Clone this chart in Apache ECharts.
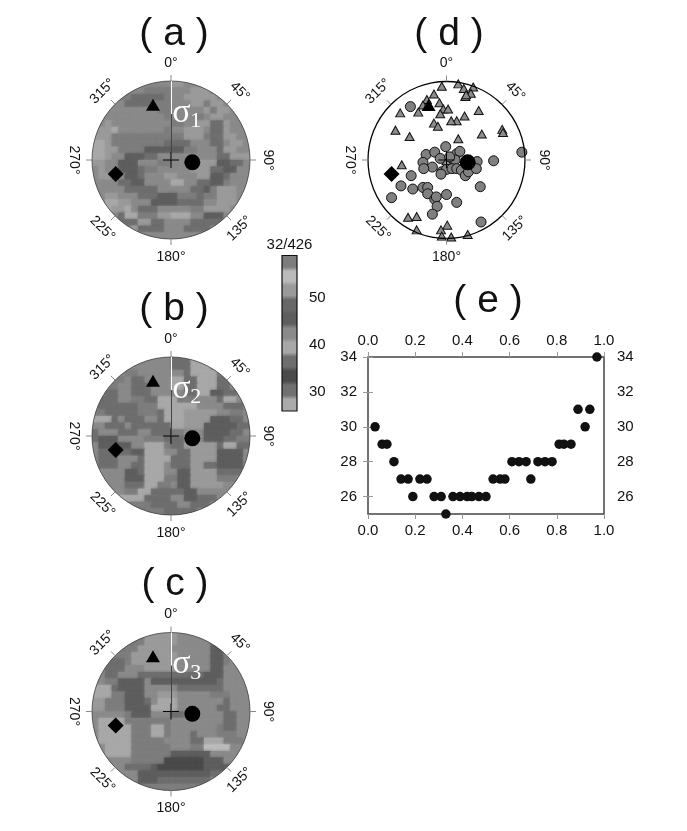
<!DOCTYPE html>
<html><head><meta charset="utf-8">
<style>html,body{margin:0;padding:0;background:#fff}#c{width:687px;height:831px}</style>
<script src="https://cdn.jsdelivr.net/npm/echarts@6/dist/echarts.min.js"></script>
</head><body><div id="c"></div>
<script>
// ---- data ----
const bandEdgesBottom = [26,29,32,35,38,41,44,47,50,53,56];
const bandGrays = ['#ababab','#707070','#4a4a4a','#6e6e6e','#a8a8a8','#8a8a8a','#5e5e5e','#686868','#9a9a9a','#bbbbbb','#7d7d7d'];
const colorbarTicks = [30,40,50];
const azimuths = [0,45,90,135,180,225,270,315];
const azimuthLabels = ['0°','45°','90°','135°','180°','225°','270°','315°'];
const azimuthRotation = [0,-45,-90,45,0,-45,-90,45];
const sigma1Point = [0.27,-0.03];
const sigma2Point = [-0.228,0.70];
const sigma3Point = [-0.70,-0.177];

const panelA = [
[43,43,43,43,43,43,43,43,43,43,43,43,52,52,43,43,43,43,43,43,43,43,43,43],
[43,43,43,43,43,43,43,43,58,58,58,58,43,43,43,52,52,52,43,43,43,43,43,43],
[43,43,43,43,58,58,37,37,37,37,37,58,43,43,52,52,52,52,52,43,43,43,43,43],
[43,43,43,43,43,37,37,37,37,58,58,58,43,43,43,52,52,58,52,52,43,43,43,43],
[43,43,43,43,43,43,43,43,43,43,58,58,43,43,43,43,43,52,58,52,52,43,43,43],
[43,43,43,43,43,43,43,43,43,43,43,58,43,43,43,43,58,43,52,52,43,43,43,43],
[43,43,52,43,43,43,43,43,43,43,43,43,58,58,43,43,52,52,37,37,52,43,43,43],
[43,52,52,40,43,43,43,43,43,43,43,58,43,43,52,52,52,43,37,37,52,43,43,43],
[52,52,52,58,58,58,58,58,58,58,58,58,58,58,52,52,52,58,37,31,52,52,43,43],
[40,40,52,58,58,58,58,58,58,58,58,37,37,37,37,43,43,43,37,37,43,52,52,43],
[40,40,52,52,58,58,58,58,46,46,46,46,46,46,58,58,43,43,43,37,52,52,43,43],
[40,40,52,43,43,46,46,46,37,37,43,43,43,43,43,43,43,43,43,37,37,52,52,52],
[52,52,43,43,46,46,46,43,43,43,58,58,43,43,43,43,52,52,52,46,46,37,37,43],
[43,52,43,43,46,46,46,37,58,58,43,43,43,43,43,52,52,52,37,37,46,46,43,43],
[43,52,52,43,43,46,46,37,43,43,43,52,52,43,43,43,52,52,46,46,37,43,43,43],
[43,43,43,43,37,37,46,46,43,43,43,43,40,40,43,43,37,37,46,46,58,43,43,43],
[43,43,43,43,43,37,37,37,37,37,43,43,43,43,43,37,37,46,58,52,52,52,43,43],
[43,43,52,52,43,43,43,37,37,37,46,46,46,58,58,58,37,58,58,52,52,52,43,43],
[43,43,40,40,52,52,43,43,43,46,46,46,46,37,37,37,37,43,43,52,52,52,43,43],
[43,43,40,52,52,40,43,37,37,37,43,43,43,43,43,58,58,52,52,52,52,43,43,43],
[43,43,43,43,37,40,40,58,58,58,52,52,40,40,40,43,43,46,46,46,43,43,43,43],
[43,43,43,43,37,37,37,52,52,37,37,43,43,43,43,37,37,37,37,37,43,43,43,43],
[43,43,43,43,43,43,52,37,37,37,37,43,43,43,37,37,37,37,43,43,43,43,43,43],
[43,43,43,43,43,43,43,43,43,43,43,43,43,43,43,43,43,43,43,43,43,43,43,43]];

const panelB = [
[43,43,43,43,43,43,43,43,43,43,43,43,37,37,37,40,40,40,43,43,43,43,43,43],
[43,43,43,43,43,43,43,43,43,43,43,43,37,37,37,40,40,40,43,43,43,43,43,43],
[43,43,43,43,43,58,58,43,43,43,43,43,43,43,37,40,40,40,40,58,37,43,43,43],
[43,43,43,58,58,43,37,37,43,43,43,43,40,40,37,37,40,40,40,37,37,43,43,43],
[43,43,58,58,43,43,37,37,37,43,43,43,40,40,37,37,40,40,40,37,37,43,43,43],
[43,43,37,37,43,43,37,37,37,43,43,43,43,43,37,37,40,40,46,46,37,37,43,43],
[43,37,37,37,43,43,58,58,37,37,40,40,40,58,58,58,43,43,43,37,40,40,43,43],
[43,37,37,37,37,37,37,58,58,58,40,40,40,40,40,40,43,43,43,43,37,37,37,43],
[58,58,37,37,37,37,37,58,58,58,37,40,40,40,52,52,52,52,52,43,43,58,58,43],
[40,40,40,37,43,37,37,37,43,43,37,40,40,40,52,52,52,52,46,46,46,37,37,43],
[43,43,37,37,37,43,37,37,37,37,37,37,40,40,52,52,52,46,46,46,46,46,37,37],
[37,43,43,43,37,37,37,43,43,37,37,37,58,58,43,43,43,46,46,46,46,37,37,43],
[37,46,46,46,43,43,43,43,58,58,58,37,37,37,43,43,43,46,46,46,37,37,58,58],
[43,46,46,46,46,46,43,43,40,40,40,58,37,37,52,52,52,52,52,37,40,40,37,37],
[43,37,37,37,37,37,46,46,40,40,40,43,43,37,37,52,52,52,52,46,46,46,46,43],
[43,37,37,37,43,43,43,37,40,40,40,40,37,37,37,52,52,52,52,46,46,46,46,43],
[43,37,37,37,43,43,37,37,40,40,40,43,37,37,37,52,52,31,31,46,46,46,46,43],
[43,43,43,43,43,46,46,37,40,40,40,43,43,46,46,52,52,52,52,37,37,37,37,43],
[43,43,43,43,43,46,46,46,40,40,40,58,58,46,46,52,52,52,52,58,58,58,43,43],
[43,43,43,43,43,37,37,37,40,40,58,58,43,46,46,52,52,52,52,52,43,43,43,43],
[43,43,43,43,43,58,58,40,40,37,37,37,37,37,46,46,43,43,43,43,43,43,43,43],
[43,43,43,43,40,40,40,40,37,37,37,37,43,43,46,46,37,37,37,43,43,43,43,43],
[43,43,43,43,43,58,58,58,58,37,37,37,37,43,43,37,37,37,43,43,43,43,43,43],
[43,43,43,43,43,43,43,58,58,58,58,37,37,37,37,37,43,43,43,43,43,43,43,43]];

const panelC = [
[58,58,58,58,58,58,58,58,52,52,52,52,52,43,43,43,43,43,43,43,43,43,43,43],
[58,58,58,58,58,58,58,58,52,52,52,52,52,43,43,43,43,43,37,37,43,43,43,43],
[58,58,58,58,58,58,58,52,52,52,52,52,43,43,43,43,43,43,46,46,43,43,43,43],
[58,58,58,58,58,58,52,52,52,52,52,52,52,43,43,43,43,43,46,46,58,43,43,43],
[43,43,37,37,37,58,52,52,52,52,52,52,52,43,43,43,43,43,46,46,58,43,43,43],
[43,43,37,37,37,43,43,43,52,52,52,52,52,43,43,43,43,43,46,46,43,43,43,43],
[43,43,37,37,43,43,43,37,37,37,37,37,37,37,37,37,37,46,46,46,43,43,43,43],
[43,43,58,58,46,46,46,46,43,46,46,46,46,46,46,46,46,46,46,37,43,43,43,43],
[40,40,40,37,46,46,46,46,43,43,43,43,43,37,37,37,37,37,37,37,43,43,43,43],
[40,40,40,58,58,46,46,46,43,43,52,52,52,43,43,43,43,43,58,58,58,43,43,43],
[52,52,58,58,58,46,46,46,37,43,40,40,40,43,43,43,43,43,43,43,37,43,43,43],
[52,52,58,58,58,46,46,46,46,40,40,40,40,43,43,43,43,43,43,37,37,43,43,43],
[43,43,43,43,43,58,46,46,46,43,43,43,37,37,43,43,43,43,43,43,37,37,43,43],
[43,40,40,40,40,58,58,58,58,58,58,58,43,43,43,43,43,43,43,43,37,37,43,43],
[43,40,40,40,40,40,58,58,58,40,40,58,43,43,43,43,43,43,43,58,37,37,43,43],
[43,40,40,40,40,40,58,58,58,40,40,58,43,43,43,37,43,43,43,58,58,58,43,43],
[43,40,40,40,40,40,58,58,58,58,58,43,43,43,43,37,37,40,40,40,58,58,58,43],
[43,43,40,40,40,40,58,58,58,58,58,58,43,43,43,58,58,55,55,55,55,43,43,43],
[43,43,40,40,40,40,58,58,58,58,58,58,46,46,46,46,46,46,43,43,43,43,43,43],
[43,43,43,43,43,43,58,58,58,58,58,34,34,34,34,34,34,46,46,46,43,43,43,43],
[43,43,43,43,43,37,37,37,37,46,34,34,34,34,34,34,34,46,46,46,46,43,43,43],
[43,43,43,43,43,43,43,46,46,46,46,46,46,46,46,46,46,46,37,37,37,43,43,43],
[43,43,43,43,43,43,43,46,46,46,37,37,37,37,37,37,37,37,43,43,43,43,43,43],
[58,58,58,58,58,58,58,58,58,58,58,58,58,58,58,58,58,58,58,58,58,58,58,58]];

// panel (d): projected positions of the two event populations
const triangleEvents = [[-.06,.94],[.15,.97],[.22,.91],[.34,.93],[.31,.85],[.24,.81],[.25,.83],[-.16,.84],[-.25,.77],[-.09,.73],[-.30,.70],[-.04,.65],[.02,.65],[-.08,.59],[-.36,.61],[-.59,.60],[.41,.63],[.23,.56],[.13,.50],[.06,.50],[-.16,.47],[-.11,.43],[-.65,.38],[-.47,.30],[.15,.27],[.45,.33],[.71,.39],[.72,.35],[-.57,-.06],[-.49,-.73],[-.38,-.72],[-.38,-.89],[.01,-.83],[-.07,-.89],[-.06,-.97],[.06,-.98],[.27,-.95],[.07,0],[0,-.01]];
const circleEvents = [[-.46,.68],[-.01,.17],[-.26,.07],[-.15,.10],[.13,.08],[.17,.11],[.96,.10],[.60,-.01],[-.30,-.03],[-.18,-.09],[-.29,-.11],[-.08,.02],[.11,0],[.04,.04],[-.06,-.15],[0,-.12],[.07,-.11],[.13,-.11],[.19,-.13],[.24,-.20],[.28,-.15],[.39,-.02],[.38,-.11],[-.45,-.20],[-.58,-.33],[-.43,-.37],[-.30,-.35],[-.24,-.35],[-.24,-.43],[.43,-.34],[-.70,-.48],[-.15,-.50],[-.13,-.47],[0,-.44],[.13,-.54],[-.12,-.59],[-.18,-.69],[.44,-.79],[-.07,-.18]];

// panel (e)
const misfitX = [.03,.06,.08,.11,.14,.17,.19,.22,.25,.28,.31,.33,.36,.39,.42,.44,.47,.50,.53,.56,.58,.61,.64,.67,.69,.72,.75,.78,.81,.83,.86,.89,.92,.94,.97];
const misfitY = [30,29,29,28,27,27,26,27,27,26,26,25,26,26,26,26,26,26,27,27,27,28,28,28,27,28,28,28,29,29,29,31,30,31,34];
const misfitYTicks = [26,28,30,32,34];

// ---- layout ----
const FONT = '"Liberation Sans",Arial,sans-serif';
const SERIF = '"Liberation Serif",serif';
const discs = [
 {cx:171,cy:160,R:79,cells:panelA,title:'( a )',tx:174,ty:33,sub:'1'},
 {cx:171,cy:436,R:79,cells:panelB,title:'( b )',tx:174,ty:308,sub:'2'},
 {cx:171,cy:711.5,R:79,cells:panelC,title:'( c )',tx:175,ty:583,sub:'3'},
 {cx:446.5,cy:160,R:78.5,cells:null,title:'( d )',tx:449,ty:33}
];
function bandColor(v){let k=0;for(let i=0;i<bandEdgesBottom.length;i++) if(v>=bandEdgesBottom[i]) k=i;return bandGrays[k];}

const grids=[],xAxes=[],yAxes=[],series=[],titles=[],graphics=[];
discs.forEach((d,gi)=>{
  grids.push({left:d.cx-d.R,top:d.cy-d.R,width:2*d.R,height:2*d.R,containLabel:false});
  xAxes.push({gridIndex:gi,type:'value',min:-1,max:1,show:false});
  yAxes.push({gridIndex:gi,type:'value',min:-1,max:1,show:false});
  titles.push({text:d.title,left:d.tx,top:d.ty-18,textAlign:'center',padding:0,textStyle:{fontFamily:FONT,fontSize:39,fontWeight:'normal',color:'#111'}});
  const base={xAxisIndex:gi,yAxisIndex:gi,coordinateSystem:'cartesian2d',silent:true,animation:false};
  if(d.cells){
    const items=[];const n=d.cells.length;
    d.cells.forEach((row,i)=>row.forEach((v,j)=>items.push([-1+2*(j+.5)/n,1-2*(i+.5)/n,v])));
    series.push(Object.assign({},base,{type:'custom',z:1,data:items,clip:false,
      encode:{x:0,y:1},
      renderItem(params,api){
        const c=api.coord([api.value(0),api.value(1)]);
        const s=api.size([2/n,2/n]);
        const o=api.coord([0,0]);
        const r=api.size([2,0])[0]/2;
        const col=bandColor(api.value(2));
        return {type:'rect',shape:{x:c[0]-s[0]/2,y:c[1]-s[1]/2,width:s[0]+.6,height:s[1]+.6},
          style:{fill:col,shadowBlur:3,shadowColor:col},
          clipPath:{type:'circle',shape:{cx:o[0],cy:o[1],r:r}}};
      }}));
  }
  // ring, ticks, cross, tick labels
  const frame=[0];
  series.push(Object.assign({},base,{type:'custom',z:5,data:frame,clip:false,
    renderItem(params,api){
      const o=api.coord([0,0]);const r=api.size([2,0])[0]/2;
      const kids=[{type:'circle',shape:{cx:o[0],cy:o[1],r:r},style:{fill:'none',stroke:d.cells?'#444':'#000',lineWidth:d.cells?.8:1.3}}];
      azimuths.forEach((az,k)=>{
        const a=az*Math.PI/180,sx=Math.sin(a),sy=-Math.cos(a);
        kids.push({type:'line',shape:{x1:o[0]+sx*r,y1:o[1]+sy*r,x2:o[0]+sx*(r+6),y2:o[1]+sy*(r+6)},style:{stroke:'#8a8a8a',lineWidth:1}});
        kids.push({type:'text',x:o[0]+sx*97,y:o[1]+sy*97,rotation:azimuthRotation[k]*Math.PI/180,
          style:{text:azimuthLabels[k],x:0,y:0,align:'center',verticalAlign:'middle',font:'14px '+FONT,fill:'#111'}});
      });
      kids.push({type:'line',shape:{x1:o[0]-8,y1:o[1],x2:o[0]+8,y2:o[1]},style:{stroke:'#000',lineWidth:1}});
      kids.push({type:'line',shape:{x1:o[0],y1:o[1]-8,x2:o[0],y2:o[1]+8},style:{stroke:'#000',lineWidth:1}});
      if(d.cells){
        kids.push({type:'line',shape:{x1:o[0]+.5,y1:o[1]-r,x2:o[0]+.5,y2:o[1]-r*.58},style:{stroke:'#fff',lineWidth:1}});
        kids.push({type:'line',shape:{x1:o[0]+.5,y1:o[1]-r*.58,x2:o[0]+.5,y2:o[1]},style:{stroke:'#444',lineWidth:1}});
      }
      return {type:'group',children:kids};
    }}));
  if(!d.cells){
    series.push(Object.assign({},base,{type:'scatter',z:3,clip:false,symbol:'triangle',symbolSize:[9,8],data:triangleEvents,
      itemStyle:{color:'#8c8c8c',borderColor:'#111',borderWidth:1,opacity:1}}));
    series.push(Object.assign({},base,{type:'scatter',z:4,clip:false,symbol:'circle',symbolSize:10,data:circleEvents,
      itemStyle:{color:'#808080',borderColor:'#111',borderWidth:1,opacity:1}}));
  }
  series.push(Object.assign({},base,{type:'scatter',z:6,clip:false,symbol:'circle',symbolSize:16,data:[sigma1Point],itemStyle:{color:'#000',opacity:1}}));
  series.push(Object.assign({},base,{type:'scatter',z:6,clip:false,symbol:'triangle',symbolSize:[14,12],data:[sigma2Point],itemStyle:{color:'#000',opacity:1}}));
  series.push(Object.assign({},base,{type:'scatter',z:6,clip:false,symbol:'diamond',symbolSize:16,data:[sigma3Point],itemStyle:{color:'#000',opacity:1}}));
  if(d.sub){
    graphics.push({type:'text',x:d.cx+10.5,y:d.cy-47,z:20,style:{text:'σ',align:'center',verticalAlign:'middle',font:'34px '+SERIF,fill:'#fff'}});
    graphics.push({type:'text',x:d.cx+24.7,y:d.cy-38.5,z:20,style:{text:d.sub,align:'center',verticalAlign:'middle',font:'22px '+SERIF,fill:'#fff'}});
  }
});

// colour bar
const cbi=grids.length;
grids.push({left:282,top:255.5,width:15,height:155.5});
xAxes.push({gridIndex:cbi,type:'value',min:0,max:1,show:false});
yAxes.push({gridIndex:cbi,type:'value',position:'right',min:26,max:59,
  axisLine:{show:false},splitLine:{show:false},
  axisTick:{length:5,lineStyle:{color:'#888'},customValues:colorbarTicks},
  axisLabel:{margin:12,fontFamily:FONT,fontSize:15,color:'#111',customValues:colorbarTicks}});
const stops=[];
bandGrays.forEach((g,i)=>{const n=bandGrays.length;
  stops.push({offset:(i+.15)/n,color:g},{offset:(i+.85)/n,color:g});});
series.push({type:'custom',xAxisIndex:cbi,yAxisIndex:cbi,data:[[0,26,1,59]],silent:true,animation:false,clip:false,z:3,
  encode:{x:[0,2],y:[1,3]},
  renderItem(p,api){
    const a=api.coord([api.value(0),api.value(3)]);
    const b=api.coord([api.value(2),api.value(1)]);
    return {type:'rect',shape:{x:a[0],y:a[1],width:b[0]-a[0],height:b[1]-a[1]},
      style:{fill:new echarts.graphic.LinearGradient(0,1,0,0,stops),stroke:'#111',lineWidth:1.2}};
  }});
graphics.push({type:'text',x:289.5,y:245,style:{text:'32/426',align:'center',verticalAlign:'middle',font:'15px '+FONT,fill:'#111'}});

// panel (e)
titles.push({text:'( e )',left:488,top:300-18,textAlign:'center',padding:0,textStyle:{fontFamily:FONT,fontSize:39,fontWeight:'normal',color:'#111'}});
const ei=grids.length;
grids.push({left:368,top:357,width:236,height:157,show:true,borderColor:'#444',borderWidth:1.5,backgroundColor:'#fff'});
const xAxisStyle={type:'value',gridIndex:ei,min:0,max:1,interval:.2,splitLine:{show:false},axisLine:{show:false},
  axisTick:{length:5,lineStyle:{color:'#999'}},
  axisLabel:{margin:9,fontFamily:FONT,fontSize:15,color:'#111',formatter:v=>v.toFixed(1)}};
xAxes.push(Object.assign({},xAxisStyle,{position:'bottom'}),Object.assign({},xAxisStyle,{position:'top'}));
const yAxisStyle={type:'value',gridIndex:ei,min:25,max:34,splitLine:{show:false},axisLine:{show:false},
  axisTick:{length:5,lineStyle:{color:'#999'},customValues:misfitYTicks}};
yAxes.push(Object.assign({},yAxisStyle,{position:'left',axisLabel:{margin:11,fontFamily:FONT,fontSize:15,color:'#111',customValues:misfitYTicks}}),
           Object.assign({},yAxisStyle,{position:'right',axisLabel:{margin:13,fontFamily:FONT,fontSize:15,color:'#111',customValues:misfitYTicks}}));
series.push({type:'scatter',xAxisIndex:xAxes.length-2,yAxisIndex:yAxes.length-2,z:5,clip:false,symbol:'circle',symbolSize:9.5,silent:true,animation:false,
  data:misfitX.map((x,i)=>[x,misfitY[i]]),itemStyle:{color:'#111',opacity:1}});

const chart=echarts.init(document.getElementById('c'),null,{renderer:'canvas',width:687,height:831});
chart.setOption({animation:false,backgroundColor:'#fff',title:titles,grid:grids,xAxis:xAxes,yAxis:yAxes,series:series,graphic:{elements:graphics}});
</script></body></html>
